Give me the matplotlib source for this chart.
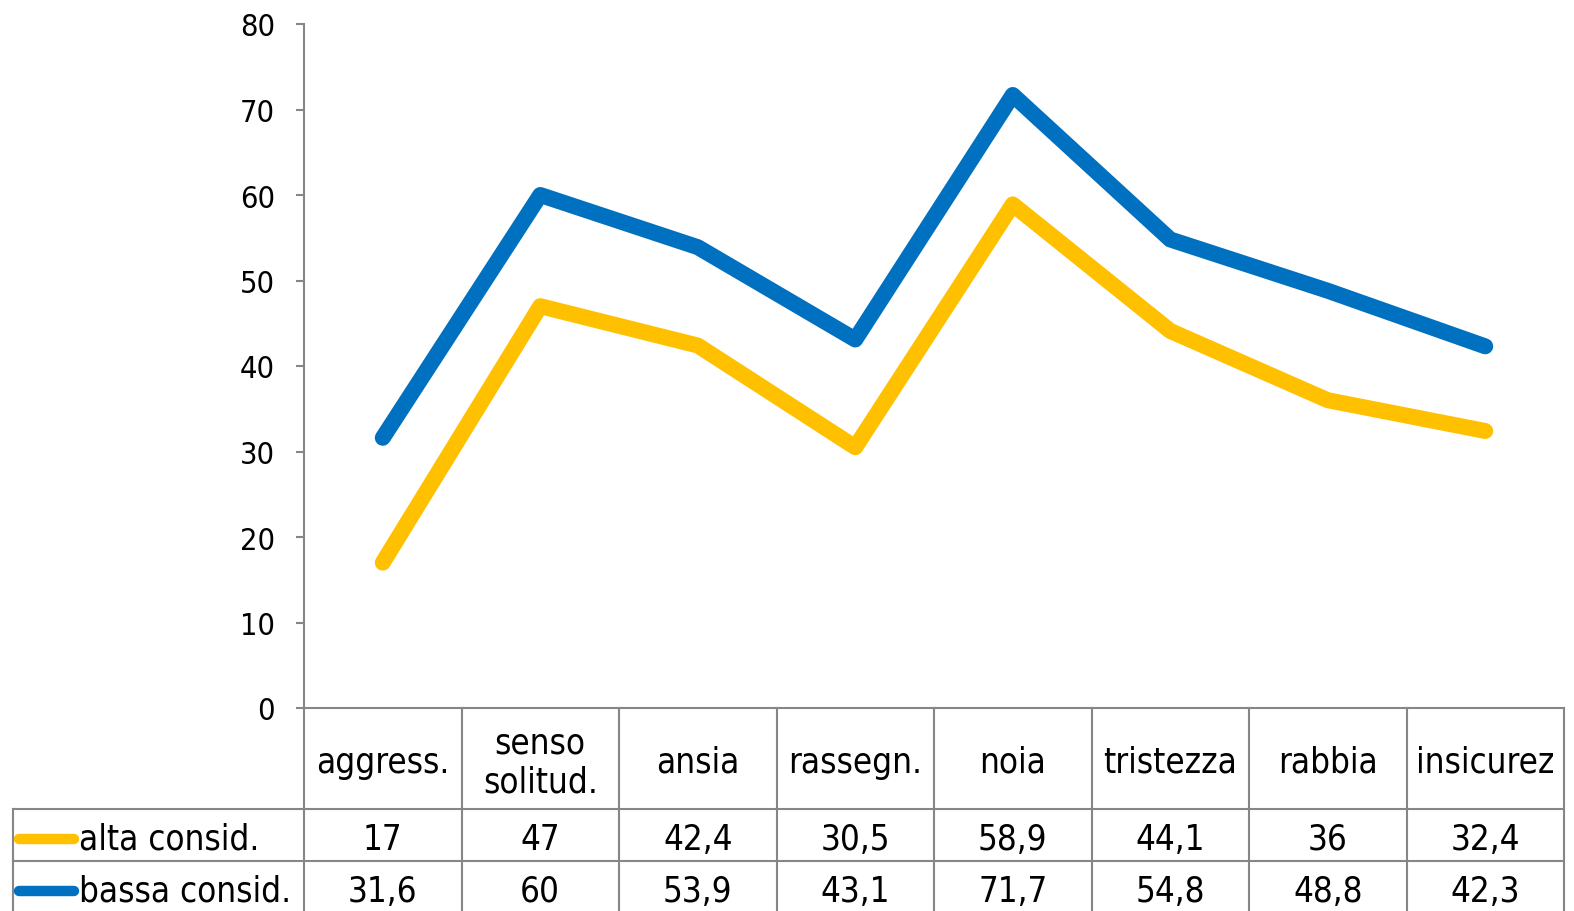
import matplotlib
matplotlib.use("Agg")
import matplotlib.pyplot as plt
import matplotlib.transforms as mtransforms

plt.rcParams['font.family'] = ['DejaVu Sans']
plt.rcParams['font.stretch'] = 'condensed'

categories = ["aggress.", "senso\nsolitud.", "ansia", "rassegn.", "noia",
              "tristezza", "rabbia", "insicurez"]
alta = [17, 47, 42.4, 30.5, 58.9, 44.1, 36, 32.4]
bassa = [31.6, 60, 53.9, 43.1, 71.7, 54.8, 48.8, 42.3]
series_names = ["alta consid.", "bassa consid."]
colors = ["#FFC000", "#0070C0"]

fig = plt.figure(figsize=(15.74, 9.12), dpi=100)
ax = fig.add_axes([304 / 1574, 1 - 709 / 912, 1260 / 1574, 684 / 912])

n = len(categories)
x = list(range(n))
for vals, c in zip([alta, bassa], colors):
    ax.plot(x, vals, color=c, lw=11.5, solid_capstyle='round', solid_joinstyle='round')

ax.set_xlim(-0.5, n - 0.5)
ax.set_ylim(0, 80)
ax.set_yticks(range(0, 81, 10))
ax.set_xticks([])
for s in ['top', 'right', 'bottom']:
    ax.spines[s].set_visible(False)
ax.spines['left'].set_color('#868686')
ax.spines['left'].set_linewidth(1.5)
ax.tick_params(axis='y', length=6, width=1.5, color='#868686', pad=15, labelsize=22)

# data table under the plot (pixel offsets below the x axis)
gray = '#868686'
lw = 1.5
px = 1 / 684
h_bot = -101 * px
r1_bot = -153 * px
r2_bot = -215 * px
blend = mtransforms.blended_transform_factory(ax.transData, ax.transAxes)
left = -0.5 - 291 / 1260 * n

ax.plot([-0.5, n - 0.5], [0, 0], transform=blend, color=gray, lw=lw, clip_on=False)
for y in [h_bot, r1_bot]:
    ax.plot([left, n - 0.5], [y, y], transform=blend, color=gray, lw=lw, clip_on=False)
for i in range(n + 1):
    ax.plot([i - 0.5, i - 0.5], [0, r2_bot], transform=blend, color=gray, lw=lw, clip_on=False)
ax.plot([left, left], [h_bot, r2_bot], transform=blend, color=gray, lw=lw, clip_on=False)

for i, cat in enumerate(categories):
    ax.text(i, -54 * px, cat, transform=blend, ha='center', va='center',
            fontsize=25, linespacing=1.2)

row_centers = [-131 * px, -183 * px]
key_x0 = left + 6 / 1260 * n
key_x1 = left + 61 / 1260 * n
for r, (name, vals, c) in enumerate(zip(series_names, [alta, bassa], colors)):
    yc = row_centers[r]
    ax.plot([key_x0, key_x1], [yc, yc], transform=blend, color=c, lw=7.5,
            solid_capstyle='round', clip_on=False)
    ax.text(left + 66 / 1260 * n, yc, name, transform=blend, ha='left', va='center',
            fontsize=25)
    for i, v in enumerate(vals):
        ax.text(i, yc, str(v).replace('.', ','), transform=blend, ha='center',
                va='center', fontsize=25)

fig.savefig("out.png", dpi=100)
